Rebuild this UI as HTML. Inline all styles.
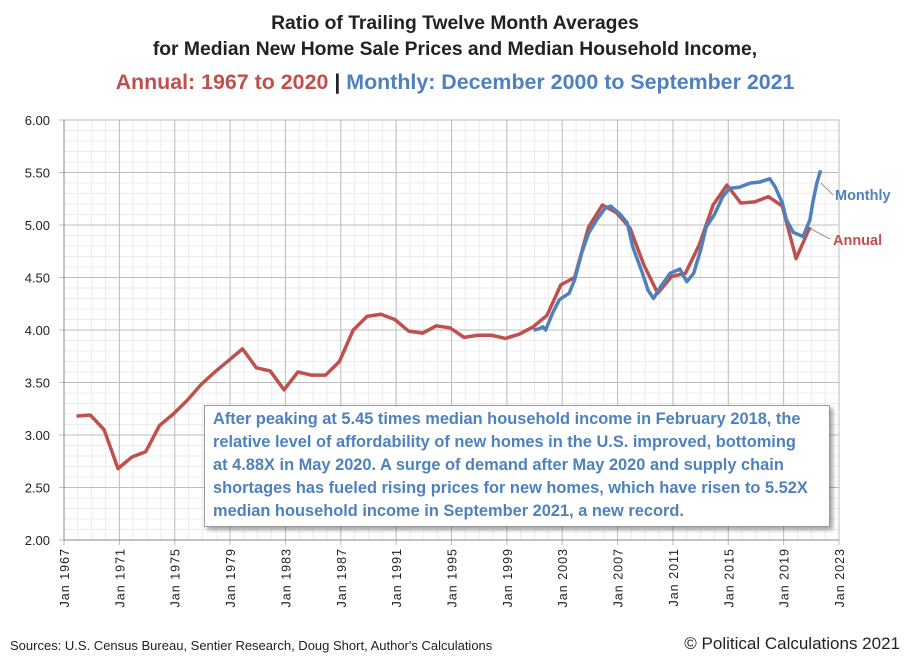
<!DOCTYPE html>
<html><head><meta charset="utf-8"><style>
body{margin:0;background:#fff;font-family:"Liberation Sans",sans-serif;}
#wrap{position:relative;width:910px;height:662px;overflow:hidden;}
.t{position:absolute;left:0;width:910px;text-align:center;font-weight:bold;font-size:19.3px;color:#222;}
</style></head><body><div id="wrap">
<div class="t" style="top:13px">Ratio of Trailing Twelve Month Averages</div>
<div class="t" style="top:39px">for Median New Home Sale Prices and Median Household Income,</div>
<div class="t" style="top:70px;font-size:21.4px"><span style="color:#c0504d">Annual: 1967 to 2020</span> | <span style="color:#4f81bd">Monthly: December 2000 to September 2021</span></div>
<svg id="svg" width="910" height="662" style="position:absolute;left:0;top:0"></svg>
<div style="position:absolute;left:204px;top:405px;width:608px;height:116px;background:#fff;border:1px solid #999;box-shadow:3px 3px 4px rgba(0,0,0,0.35);padding:2px 8px 2px 8px;color:#4f81bd;font-weight:bold;font-size:16.4px;line-height:23px;white-space:nowrap">After peaking at 5.45 times median household income in February 2018, the<br>relative level of affordability of new homes in the U.S. improved, bottoming<br>at 4.88X in May 2020. A surge of demand after May 2020 and supply chain<br>shortages has fueled rising prices for new homes, which have risen to 5.52X<br>median household income in September 2021, a new record.</div>
<div style="position:absolute;left:10px;top:638px;font-size:13px;color:#222">Sources: U.S. Census Bureau, Sentier Research, Doug Short, Author's Calculations</div>
<div style="position:absolute;right:10px;top:634px;font-size:17px;color:#222">© Political Calculations 2021</div>
</div>
<script>
const annualYears=[1967,1968,1969,1970,1971,1972,1973,1974,1975,1976,1977,1978,1979,1980,1981,1982,1983,1984,1985,1986,1987,1988,1989,1990,1991,1992,1993,1994,1995,1996,1997,1998,1999,2000,2001,2002,2003,2004,2005,2006,2007,2008,2009,2010,2011,2012,2013,2014,2015,2016,2017,2018,2019,2020];
const annualValues=[3.18,3.19,3.05,2.68,2.79,2.84,3.09,3.20,3.33,3.48,3.60,3.71,3.82,3.64,3.61,3.43,3.60,3.57,3.57,3.70,4.00,4.13,4.15,4.10,3.99,3.97,4.04,4.02,3.93,3.95,3.95,3.92,3.96,4.03,4.14,4.43,4.50,4.98,5.19,5.12,4.97,4.62,4.35,4.51,4.54,4.81,5.19,5.38,5.21,5.22,5.27,5.18,4.68,4.98];
const monthlyDates=[2000.92,2001.3,2001.6,2001.8,2002.3,2002.8,2003.5,2003.9,2004.4,2004.9,2005.5,2006.1,2006.5,2007.2,2007.7,2008.1,2008.8,2009.2,2009.6,2010.1,2010.8,2011.5,2012.0,2012.5,2013.0,2013.4,2014.0,2014.6,2015.1,2015.8,2016.6,2017.3,2018.0,2018.4,2018.9,2019.2,2019.7,2020.4,2020.9,2021.1,2021.4,2021.67];
const monthlyValues=[4.00,4.01,4.03,4.00,4.16,4.29,4.35,4.48,4.73,4.92,5.05,5.16,5.18,5.10,5.02,4.79,4.54,4.38,4.30,4.41,4.54,4.58,4.46,4.54,4.76,4.98,5.10,5.27,5.35,5.36,5.40,5.41,5.44,5.36,5.21,5.05,4.93,4.89,5.05,5.21,5.40,5.52];
const yTicks=[2,2.5,3,3.5,4,4.5,5,5.5,6];
const xTickYears=[1967,1971,1975,1979,1983,1987,1991,1995,1999,2003,2007,2011,2015,2019,2023];
const X0=64,X1=839,Y0=540,Y1=120;
const xs=t=>X0+(t-1967)*(X1-X0)/56;
const ys=v=>Y0-(v-2)*(Y0-Y1)/4;
const svg=document.getElementById('svg');const NS='http://www.w3.org/2000/svg';
function mk(tag,attrs){const e=document.createElementNS(NS,tag);for(const k in attrs)e.setAttribute(k,attrs[k]);svg.appendChild(e);return e;}
for(let v=2;v<=6.001;v+=0.1){const l=mk('line',{x1:X0,x2:X1,y1:ys(v),y2:ys(v),stroke:'#ececec','stroke-width':1});

}
for(let y=1967;y<=2023;y++){const l=mk('line',{x1:xs(y),x2:xs(y),y1:Y1,y2:Y0,stroke:'#ececec','stroke-width':1});

}
yTicks.forEach(v=>{const l=mk('line',{x1:X0-5,x2:X1,y1:ys(v),y2:ys(v),stroke:'#bdbdbd','stroke-width':1});


const t=mk('text',{x:X0-14,y:ys(v)+5,'text-anchor':'end','font-size':13,fill:'#222','font-family':'Liberation Sans, sans-serif'});t.textContent=v.toFixed(2);

});
xTickYears.forEach(y=>{const l=mk('line',{x1:xs(y),x2:xs(y),y1:Y1,y2:Y0+5,stroke:'#bdbdbd','stroke-width':1});


const t=mk('text',{x:0,y:0,transform:`translate(${xs(y)+5},${Y0+8}) rotate(-90)`,'text-anchor':'end','font-size':12.5,fill:'#222','font-family':'Liberation Sans, sans-serif','letter-spacing':'1'});t.textContent='Jan '+y;

});
mk('line',{x1:X0,x2:X0,y1:Y1,y2:Y0,stroke:'#888'});mk('line',{x1:X0,x2:X1,y1:Y0,y2:Y0,stroke:'#888'});
const ap=annualYears.map((y,i)=>xs(y+0.9)+','+ys(annualValues[i])).join(' ');
const a=mk('polyline',{points:ap,fill:'none',stroke:'#c0504d','stroke-width':3.5,'stroke-linejoin':'round'});


const mp=monthlyDates.map((d,i)=>xs(d)+','+ys(monthlyValues[i])).join(' ');
const m=mk('polyline',{points:mp,fill:'none',stroke:'#4f81bd','stroke-width':3.5,'stroke-linejoin':'round'});


mk('line',{x1:821,y1:183,x2:833,y2:195,stroke:'#999'});
mk('line',{x1:811,y1:229,x2:830,y2:239,stroke:'#999'});
const lm=mk('text',{x:835,y:200,'font-size':14.5,'font-weight':'bold',fill:'#4f81bd','font-family':'Liberation Sans, sans-serif'});lm.textContent='Monthly';


const la=mk('text',{x:833,y:245,'font-size':14.5,'font-weight':'bold',fill:'#c0504d','font-family':'Liberation Sans, sans-serif'});la.textContent='Annual';


</script></body></html>
